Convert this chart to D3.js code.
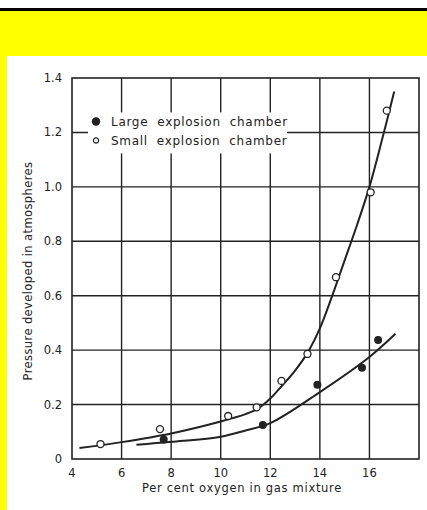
<!DOCTYPE html>
<html>
<head>
<meta charset="utf-8">
<script src="https://cdn.jsdelivr.net/npm/d3@7"></script>
<style>
  body { margin: 0; background: #fff; }
  svg { display: block; }
  text { font-family: "DejaVu Sans", sans-serif; fill: #222; }
</style>
</head>
<body>
<div id="chart"></div>
<script>
// values
const xTicks = [4, 6, 8, 10, 12, 14, 16];
const yTicks = [0, 0.2, 0.4, 0.6, 0.8, 1.0, 1.2, 1.4];
const yTickLabels = ["0", "0.2", "0.4", "0.6", "0.8", "1.0", "1.2", "1.4"];

const smallX = [5.15, 7.55, 10.3, 11.45, 12.45, 13.5, 14.65, 16.05, 16.7];
const smallY = [0.055, 0.11, 0.158, 0.19, 0.287, 0.386, 0.668, 0.98, 1.28];
const largeX = [7.7, 11.7, 13.9, 15.7, 16.35];
const largeY = [0.072, 0.125, 0.273, 0.335, 0.437];

// hand-drawn fitted curves
const smallCurveX = [4.3, 6, 8, 10, 11, 11.5, 12, 12.5, 13, 13.5, 14, 14.5, 15, 15.5, 16, 16.5, 17];
const smallCurveY = [0.04, 0.062, 0.094, 0.138, 0.165, 0.185, 0.222, 0.272, 0.325, 0.39, 0.48, 0.6, 0.73, 0.86, 1.0, 1.17, 1.35];
const largeCurveX = [6.6, 8, 10, 11, 12, 14, 16, 17.05];
const largeCurveY = [0.052, 0.063, 0.082, 0.105, 0.132, 0.246, 0.375, 0.46];

const legendLabels = ["Large  explosion  chamber", "Small  explosion  chamber"];
const xTitle = "Per cent oxygen in gas mixture";
const yTitle = "Pressure developed in atmospheres";

const W = 427, H = 510;
const margin = { top: 78, right: 8, bottom: 51, left: 72 };
const width = W - margin.left - margin.right;
const height = H - margin.top - margin.bottom;
const ink = "#222";

const svg = d3.select("#chart").append("svg")
  .attr("width", W)
  .attr("height", H);

// page frame: black rule, yellow band, white sheet
svg.append("rect").attr("x", 0).attr("y", 0).attr("width", W).attr("height", H).attr("fill", "#fff");
svg.append("rect").attr("x", 0).attr("y", 8).attr("width", W).attr("height", 3).attr("fill", "#000");
svg.append("rect").attr("x", 0).attr("y", 11).attr("width", W).attr("height", H - 11).attr("fill", "#ffff00");
svg.append("rect").attr("x", 7).attr("y", 56).attr("width", W - 7).attr("height", H - 56).attr("fill", "#fff");

const xScale = d3.scaleLinear().domain([4, 18]).range([0, width]);
const yScale = d3.scaleLinear().domain([0, 1.4]).range([height, 0]);

const g = svg.append("g")
  .attr("transform", "translate(" + margin.left + "," + margin.top + ")");

// grid
g.append("g")
  .selectAll("line")
  .data(xTicks.slice(1))
  .enter()
  .append("line")
  .attr("x1", d => xScale(d)).attr("x2", d => xScale(d))
  .attr("y1", 0).attr("y2", height)
  .attr("stroke", ink).attr("stroke-width", 1.4);

g.append("g")
  .selectAll("line")
  .data(yTicks.slice(1, -1))
  .enter()
  .append("line")
  .attr("x1", 0).attr("x2", width)
  .attr("y1", d => yScale(d)).attr("y2", d => yScale(d))
  .attr("stroke", ink).attr("stroke-width", 1.4);

// legend box masks the grid
const legend = g.append("g").attr("transform", "translate(" + (xScale(4) + 16) + "," + (yScale(1.2) - 20) + ")");
legend.append("rect")
  .attr("x", 0).attr("y", 0).attr("width", 199).attr("height", 41)
  .attr("fill", "#fff");

legendLabels.forEach((label, i) => {
  const row = legend.append("g").attr("transform", "translate(8," + (9 + i * 19) + ")");
  row.append("circle")
    .attr("r", i == 0 ? 3.6 : 2.6)
    .attr("fill", i == 0 ? ink : "#fff")
    .attr("stroke", ink)
    .attr("stroke-width", 1.2);
  row.append("text")
    .attr("x", 15).attr("y", 4.5)
    .attr("font-size", 12)
    .attr("letter-spacing", 0.7)
    .style("white-space", "pre")
    .text(label);
});

// frame
g.append("rect")
  .attr("x", 0).attr("y", 0).attr("width", width).attr("height", height)
  .attr("fill", "none").attr("stroke", ink).attr("stroke-width", 1.6);

// tick labels
g.append("g")
  .selectAll("text")
  .data(xTicks)
  .enter()
  .append("text")
  .attr("x", d => xScale(d))
  .attr("y", height + 18)
  .attr("text-anchor", "middle")
  .attr("font-size", 11.5)
  .text(d => d);

g.append("g")
  .selectAll("text")
  .data(yTicks)
  .enter()
  .append("text")
  .attr("x", -10)
  .attr("y", d => yScale(d))
  .attr("dy", "0.35em")
  .attr("text-anchor", "end")
  .attr("font-size", 11.5)
  .text((d, i) => yTickLabels[i]);

// axis titles
svg.append("text")
  .attr("x", 242).attr("y", 492)
  .attr("text-anchor", "middle")
  .attr("font-size", 11.5)
  .attr("letter-spacing", 0.7)
  .text(xTitle);

svg.append("text")
  .attr("transform", "translate(32,271) rotate(-90)")
  .attr("text-anchor", "middle")
  .attr("font-size", 11.5)
  .attr("letter-spacing", 0.4)
  .text(yTitle);

// fitted curves
const line = d3.line()
  .x(d => xScale(d[0]))
  .y(d => yScale(d[1]))
  .curve(d3.curveCatmullRom);

g.append("path")
  .datum(smallCurveX.map((x, i) => [x, smallCurveY[i]]))
  .attr("d", line)
  .attr("fill", "none").attr("stroke", ink).attr("stroke-width", 2);

g.append("path")
  .datum(largeCurveX.map((x, i) => [x, largeCurveY[i]]))
  .attr("d", line)
  .attr("fill", "none").attr("stroke", ink).attr("stroke-width", 2);

// points
g.selectAll(".small")
  .data(smallX.map((x, i) => [x, smallY[i]]))
  .enter()
  .append("circle")
  .attr("class", "small")
  .attr("cx", d => xScale(d[0]))
  .attr("cy", d => yScale(d[1]))
  .attr("r", 3.5)
  .attr("fill", "#fff")
  .attr("stroke", ink)
  .attr("stroke-width", 1.3);

g.selectAll(".large")
  .data(largeX.map((x, i) => [x, largeY[i]]))
  .enter()
  .append("circle")
  .attr("class", "large")
  .attr("cx", d => xScale(d[0]))
  .attr("cy", d => yScale(d[1]))
  .attr("r", 4)
  .attr("fill", ink);
</script>
</body>
</html>
